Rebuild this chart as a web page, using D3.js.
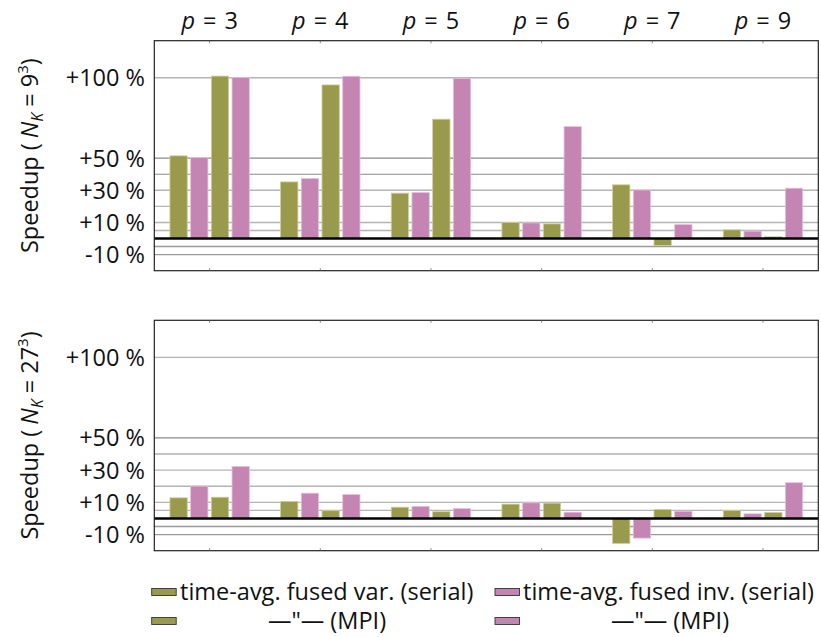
<!DOCTYPE html>
<html><head><meta charset="utf-8">
<script src="https://cdn.jsdelivr.net/npm/d3@7"></script>
<style>
html,body{margin:0;padding:0;background:#fff;}
svg text{font-family:"Open Sans","Noto Sans",sans-serif;fill:#111;}
</style></head>
<body>
<svg id="chart" width="821" height="637"></svg>
<script>
// ---- data ----
const groups = ["3", "4", "5", "6", "7", "9"];
const seriesKeys = ["varSerial", "invSerial", "varMPI", "invMPI"];
const seriesColors = ["#999a4c", "#c485b2", "#999a4c", "#c485b2"];
const seriesEdges = ["#cfcf98", "#e6c2dc", "#cfcf98", "#e6c2dc"];
const legendLabels = ["time-avg. fused var. (serial)", "time-avg. fused inv. (serial)", "—\"— (MPI)", "—\"— (MPI)"];

const nk9_varSerial = [51.4, 35.2, 28.2, 9.9, 33.4, 5.4];
const nk9_invSerial = [50.3, 37.3, 28.6, 9.7, 30.2, 4.6];
const nk9_varMPI    = [101.0, 95.5, 74.2, 9.1, -4.3, 1.1];
const nk9_invMPI    = [100.2, 100.9, 99.6, 69.6, 8.7, 31.3];

const nk27_varSerial = [12.8, 10.6, 7.0, 8.9, -15.5, 5.0];
const nk27_invSerial = [20.1, 15.7, 7.5, 9.7, -12.2, 2.9];
const nk27_varMPI    = [13.2, 4.8, 4.2, 9.5, 5.6, 3.7];
const nk27_invMPI    = [32.3, 14.9, 6.2, 3.9, 4.5, 22.2];

const yTickValues = [100, 50, 30, 10, -10];
const yTickLabels = ["+100 %", "+50 %", "+30 %", "+10 %", "-10 %"];
const gridValues = [100, 50, 40, 30, 20, 10, 5, -5, -10];
const yDomain = [-20, 123];

const panels = [
  {base: "9", series: [nk9_varSerial, nk9_invSerial, nk9_varMPI, nk9_invMPI], top: 40.7, bottom: 270.7},
  {base: "27", series: [nk27_varSerial, nk27_invSerial, nk27_varMPI, nk27_invMPI], top: 320.3, bottom: 550.7}
];

// ---- layout ----
const svg = d3.select("#chart");
const left = 154.3, right = 818.3;
const FS = 23.5;
const x = d3.scaleBand().domain(groups).range([left, right]).padding(0);
const xs = d3.scaleBand().domain(seriesKeys).range([-41.4, 41.4]).paddingInner(0.164).paddingOuter(0.082);

function gridColor(v) {
  if (v === 50 || v === 40) return "#8a8a8a";
  if (v < 0) return "#9a9a9a";
  return "#b4b4b4";
}

panels.forEach((panel, pi) => {
  const y = d3.scaleLinear().domain(yDomain).range([panel.bottom, panel.top]);
  const g = svg.append("g");

  // grid
  g.selectAll("line.grid").data(gridValues).join("line")
    .attr("x1", left).attr("x2", right)
    .attr("y1", d => y(d)).attr("y2", d => y(d))
    .attr("stroke", d => gridColor(d))
    .attr("stroke-width", d => (d === 50 || d === 40) ? 1.1 : 1.4);

  // bars
  const rows = [];
  groups.forEach((grp, gi) => seriesKeys.forEach((k, si) => rows.push({grp, k, si, v: panel.series[si][gi]})));
  g.selectAll("rect.bar").data(rows).join("rect")
    .attr("x", d => x(d.grp) + x.bandwidth() / 2 + xs(d.k))
    .attr("width", xs.bandwidth())
    .attr("y", d => y(Math.max(0, d.v)))
    .attr("height", d => Math.abs(y(d.v) - y(0)))
    .attr("fill", d => seriesColors[d.si])
    .attr("stroke", d => seriesEdges[d.si])
    .attr("stroke-width", 0.8);

  // zero line
  g.append("line").attr("x1", left).attr("x2", right)
    .attr("y1", y(0)).attr("y2", y(0))
    .attr("stroke", "#000").attr("stroke-width", 2.6);

  // frame
  g.append("rect").attr("x", left).attr("y", panel.top)
    .attr("width", right - left).attr("height", panel.bottom - panel.top)
    .attr("fill", "none").attr("stroke", "#222").attr("stroke-width", 1.2);

  // x ticks (tiny, at group centres)
  groups.forEach(grp => {
    const cx = x(grp) + x.bandwidth() / 2;
    g.append("line").attr("x1", cx).attr("x2", cx).attr("y1", panel.top).attr("y2", panel.top + 2.5)
      .attr("stroke", "#666").attr("stroke-width", 0.8);
    g.append("line").attr("x1", cx).attr("x2", cx).attr("y1", panel.bottom).attr("y2", panel.bottom - 2.5)
      .attr("stroke", "#666").attr("stroke-width", 0.8);
  });

  // y tick labels
  g.selectAll("text.ytick").data(yTickValues).join("text")
    .attr("x", 145).attr("y", d => y(d))
    .attr("dy", "0.36em")
    .attr("text-anchor", "end")
    .style("font-size", FS + "px")
    .text((d, i) => yTickLabels[i]);

  // y axis title
  const cy = (panel.top + panel.bottom) / 2;
  const t = g.append("text")
    .attr("transform", `translate(38,${cy}) rotate(-90)`)
    .attr("text-anchor", "middle")
    .style("font-size", FS + "px");
  t.append("tspan").text("Speedup (");
  t.append("tspan").attr("dx", 5).style("font-style", "italic").text("N");
  t.append("tspan").style("font-style", "italic").style("font-size", "16px").attr("dy", 5).text("K");
  t.append("tspan").attr("dy", -5).attr("dx", 6).text("=");
  t.append("tspan").attr("dx", 6).text(panel.base);
  t.append("tspan").style("font-size", "15px").attr("dy", -10).text("3");
  t.append("tspan").attr("dy", 10).text(")");

  // group labels (top only)
  if (pi === 0) {
    groups.forEach(grp => {
      const lt = g.append("text")
        .attr("x", x(grp) + x.bandwidth() / 2).attr("y", 29)
        .attr("text-anchor", "middle").style("font-size", FS + "px");
      lt.append("tspan").style("font-style", "italic").text("p");
      lt.append("tspan").attr("dx", 8).text("=");
      lt.append("tspan").attr("dx", 8).text(grp);
    });
  }
});

// ---- legend ----
const legendItems = [
  {i: 0, sx: 151.7, row: 0, tx: 180, anchor: "start"},
  {i: 1, sx: 495, row: 0, tx: 523, anchor: "start"},
  {i: 2, sx: 151.7, row: 1, tx: 327, anchor: "middle"},
  {i: 3, sx: 495, row: 1, tx: 670, anchor: "middle"}
];
const rowY = [592, 621];
const lg = svg.append("g");
legendItems.forEach(it => {
  lg.append("rect").attr("x", it.sx).attr("y", rowY[it.row] - 3.5)
    .attr("width", 24.5).attr("height", 7)
    .attr("fill", seriesColors[it.i]).attr("stroke", "#333").attr("stroke-width", 0.9);
  lg.append("text").attr("x", it.tx).attr("y", rowY[it.row])
    .attr("dy", "0.36em").attr("text-anchor", it.anchor)
    .style("font-size", FS + "px").text(legendLabels[it.i]);
});
</script>
</body></html>
